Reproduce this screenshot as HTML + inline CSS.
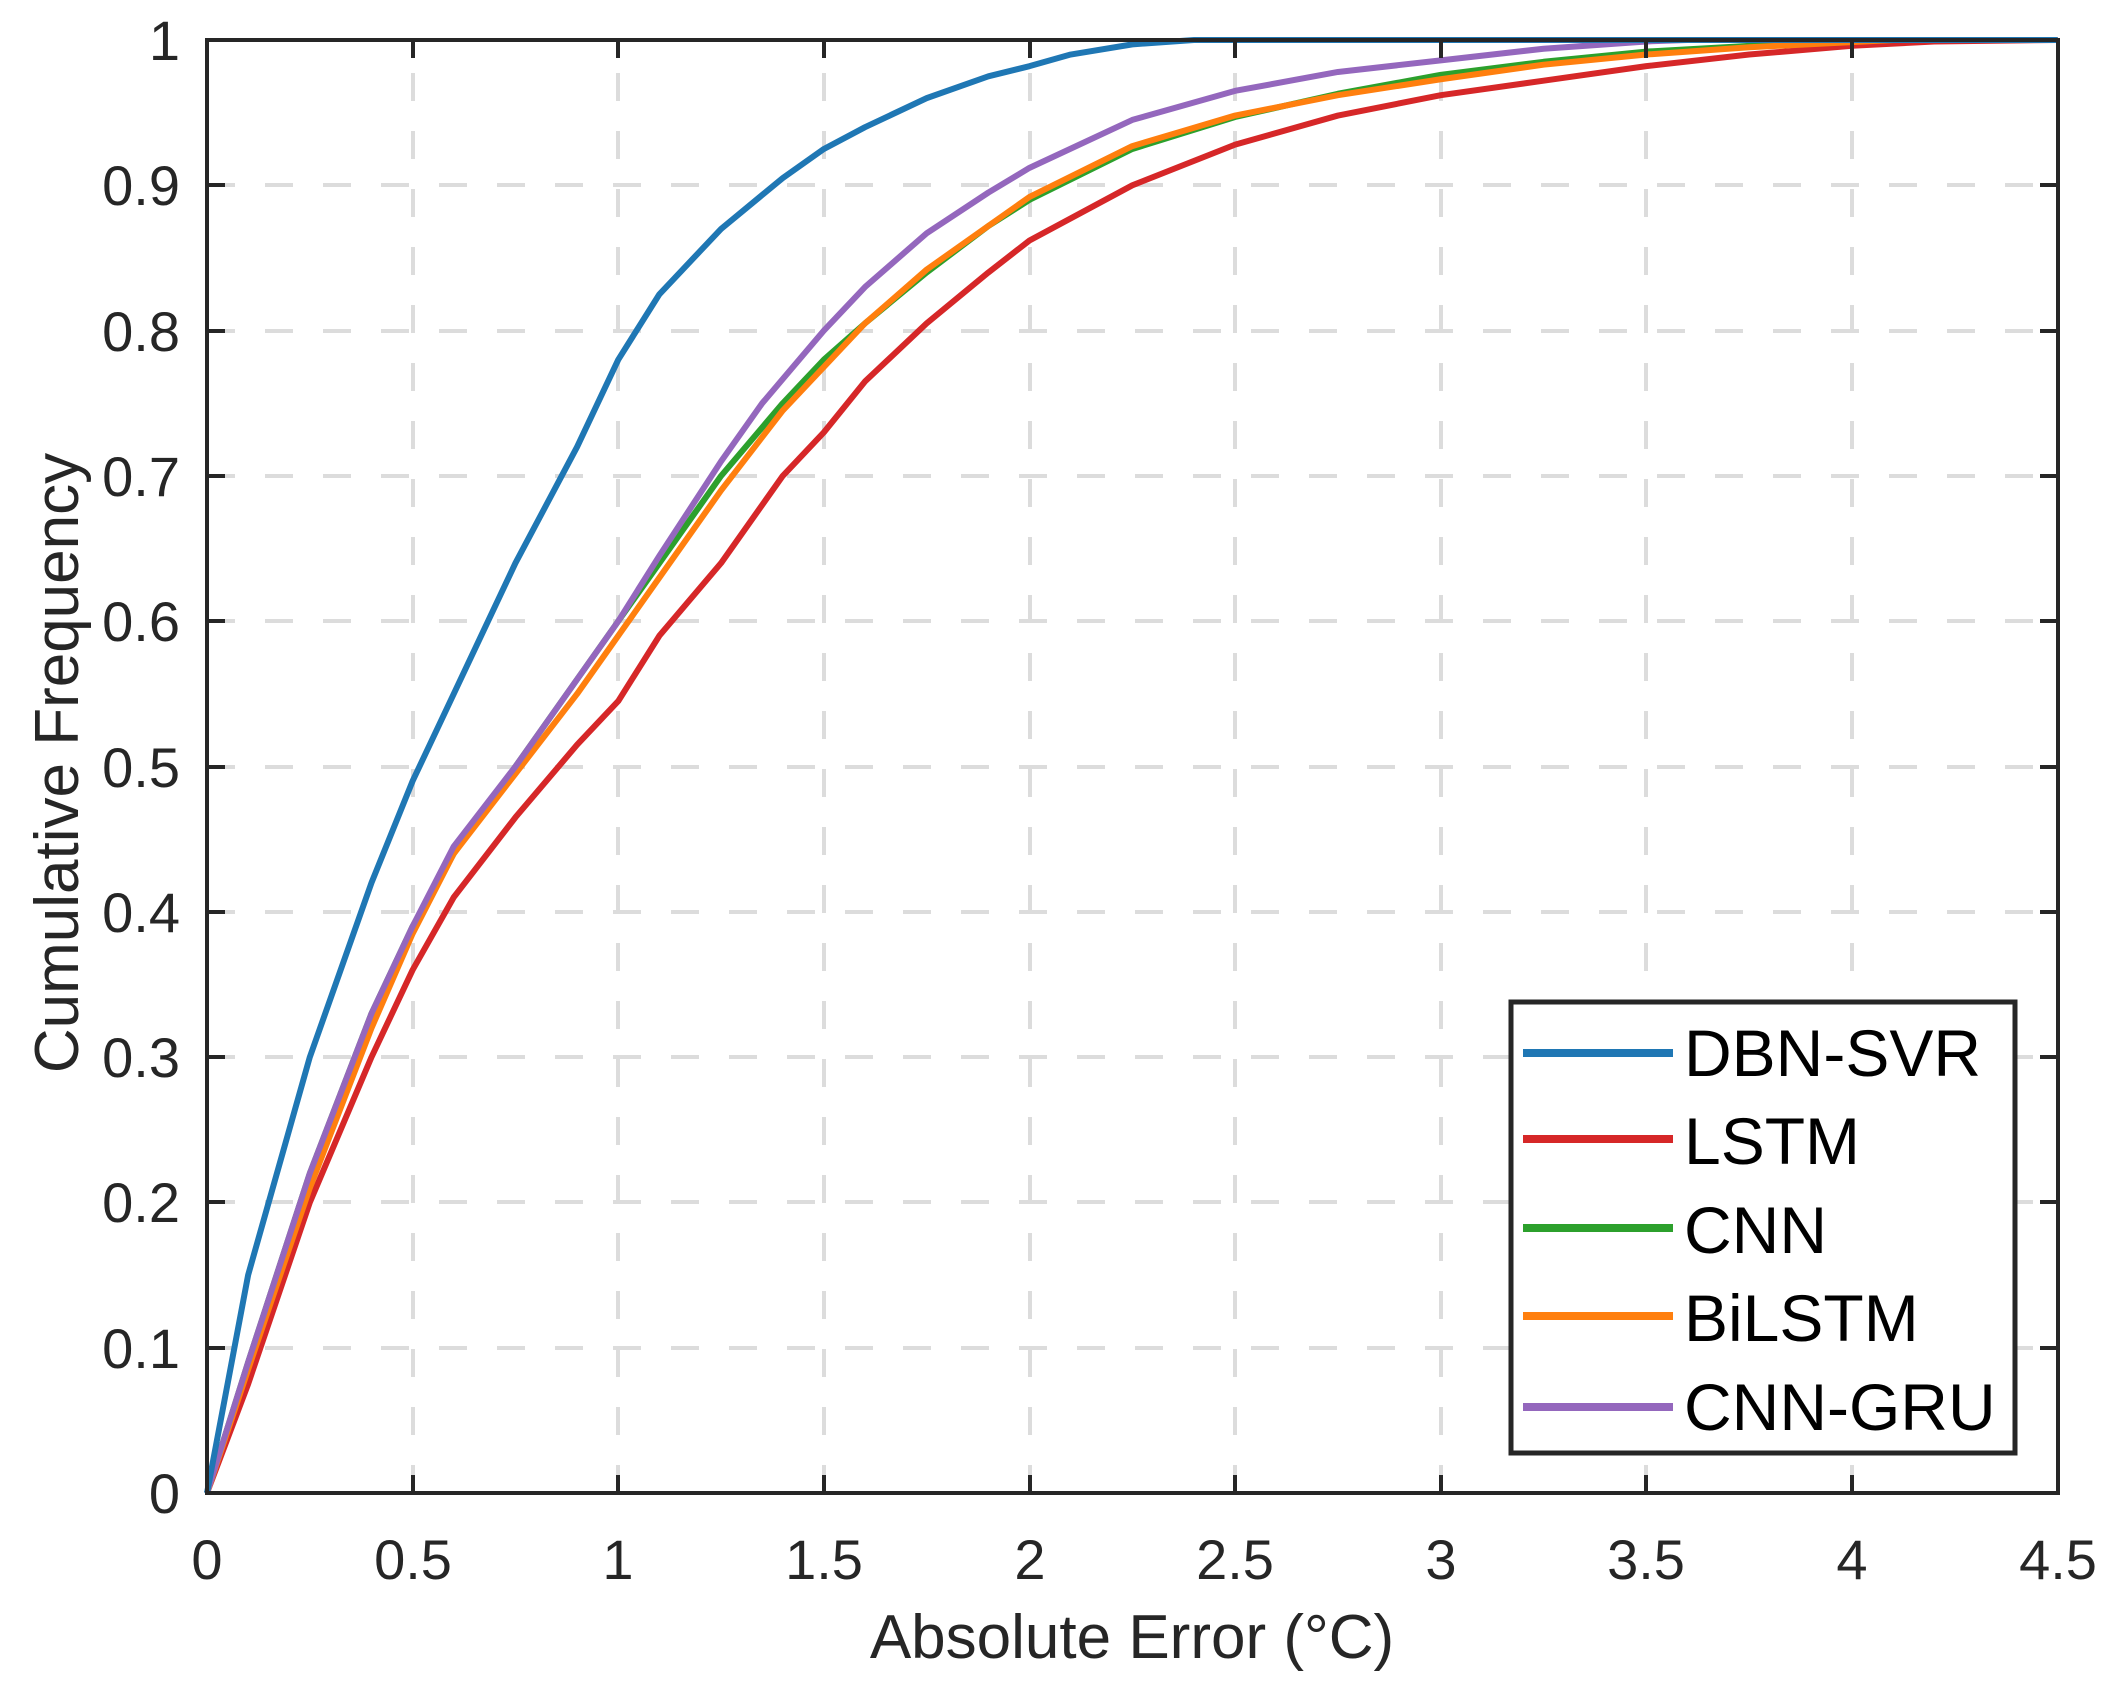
<!DOCTYPE html>
<html><head><meta charset="utf-8"><style>
html,body{margin:0;padding:0;background:#fff;}
svg{display:block;font-family:"Liberation Sans",Arial,sans-serif;}
</style></head><body>
<svg width="2117" height="1700" viewBox="0 0 2117 1700" xmlns="http://www.w3.org/2000/svg">
<rect width="2117" height="1700" fill="#fff"/>
<!-- grid -->
<g stroke="#dcdcdc" stroke-width="4" stroke-dasharray="28,30">
<line x1="413" y1="1493" x2="413" y2="40"/>
<line x1="618" y1="1493" x2="618" y2="40"/>
<line x1="824" y1="1493" x2="824" y2="40"/>
<line x1="1030" y1="1493" x2="1030" y2="40"/>
<line x1="1235" y1="1493" x2="1235" y2="40"/>
<line x1="1441" y1="1493" x2="1441" y2="40"/>
<line x1="1646" y1="1493" x2="1646" y2="40"/>
<line x1="1852" y1="1493" x2="1852" y2="40"/>
<line x1="207" y1="1348" x2="2058" y2="1348"/>
<line x1="207" y1="1202" x2="2058" y2="1202"/>
<line x1="207" y1="1057" x2="2058" y2="1057"/>
<line x1="207" y1="912" x2="2058" y2="912"/>
<line x1="207" y1="767" x2="2058" y2="767"/>
<line x1="207" y1="621" x2="2058" y2="621"/>
<line x1="207" y1="476" x2="2058" y2="476"/>
<line x1="207" y1="331" x2="2058" y2="331"/>
<line x1="207" y1="185" x2="2058" y2="185"/>
</g>
<!-- curves -->
<g transform="translate(207,1493) scale(411.25,-1453)" fill="none" stroke-width="6" stroke-linejoin="round">
<polyline vector-effect="non-scaling-stroke" stroke="#d62728" points="0,0 0.1,0.075 0.25,0.2 0.4,0.3 0.5,0.36 0.6,0.41 0.75,0.465 0.9,0.515 1,0.545 1.1,0.59 1.25,0.64 1.4,0.7 1.5,0.73 1.6,0.765 1.75,0.805 1.9,0.84 2,0.862 2.25,0.9 2.5,0.928 2.75,0.948 3,0.962 3.25,0.972 3.5,0.982 3.75,0.99 4,0.996 4.2,0.999 4.5,1"/>
<polyline vector-effect="non-scaling-stroke" stroke="#2ca02c" points="0,0 0.1,0.09 0.25,0.22 0.4,0.33 0.5,0.39 0.6,0.44 0.75,0.5 0.9,0.56 1,0.6 1.1,0.64 1.25,0.7 1.4,0.75 1.5,0.78 1.6,0.805 1.75,0.84 1.9,0.872 2,0.89 2.25,0.925 2.5,0.947 2.75,0.963 3,0.976 3.25,0.985 3.5,0.992 3.75,0.996 4.1,1 4.5,1"/>
<polyline vector-effect="non-scaling-stroke" stroke="#ff7f0e" points="0,0 0.1,0.085 0.25,0.21 0.4,0.32 0.5,0.385 0.6,0.44 0.75,0.495 0.9,0.55 1,0.59 1.1,0.63 1.25,0.69 1.4,0.745 1.5,0.775 1.6,0.805 1.75,0.842 1.9,0.872 2,0.892 2.25,0.927 2.5,0.948 2.75,0.962 3,0.973 3.25,0.983 3.5,0.99 3.75,0.995 4.1,1 4.5,1"/>
<polyline vector-effect="non-scaling-stroke" stroke="#9467bd" points="0,0 0.1,0.09 0.25,0.22 0.4,0.33 0.5,0.39 0.6,0.445 0.75,0.5 0.9,0.56 1,0.6 1.1,0.645 1.25,0.71 1.35,0.75 1.5,0.8 1.6,0.83 1.75,0.867 1.9,0.895 2,0.912 2.25,0.945 2.5,0.965 2.75,0.978 3,0.986 3.25,0.994 3.5,0.999 3.6,1 4.5,1"/>
<polyline vector-effect="non-scaling-stroke" stroke="#1f77b4" points="0,0 0.1,0.15 0.25,0.3 0.4,0.42 0.5,0.49 0.6,0.55 0.75,0.64 0.9,0.72 1,0.78 1.1,0.825 1.25,0.87 1.4,0.905 1.5,0.925 1.6,0.94 1.75,0.96 1.9,0.975 2,0.982 2.1,0.99 2.25,0.997 2.4,1 4.5,1"/>
</g>
<!-- axes box -->
<rect x="207" y="40" width="1851" height="1453" fill="none" stroke="#262626" stroke-width="4"/>
<g stroke="#262626" stroke-width="4">
<line x1="413" y1="1493" x2="413" y2="1475"/><line x1="618" y1="1493" x2="618" y2="1475"/><line x1="824" y1="1493" x2="824" y2="1475"/><line x1="1030" y1="1493" x2="1030" y2="1475"/><line x1="1235" y1="1493" x2="1235" y2="1475"/><line x1="1441" y1="1493" x2="1441" y2="1475"/><line x1="1646" y1="1493" x2="1646" y2="1475"/><line x1="1852" y1="1493" x2="1852" y2="1475"/>
<line x1="413" y1="40" x2="413" y2="58"/><line x1="618" y1="40" x2="618" y2="58"/><line x1="824" y1="40" x2="824" y2="58"/><line x1="1030" y1="40" x2="1030" y2="58"/><line x1="1235" y1="40" x2="1235" y2="58"/><line x1="1441" y1="40" x2="1441" y2="58"/><line x1="1646" y1="40" x2="1646" y2="58"/><line x1="1852" y1="40" x2="1852" y2="58"/>
<line x1="207" y1="1348" x2="225" y2="1348"/><line x1="207" y1="1202" x2="225" y2="1202"/><line x1="207" y1="1057" x2="225" y2="1057"/><line x1="207" y1="912" x2="225" y2="912"/><line x1="207" y1="767" x2="225" y2="767"/><line x1="207" y1="621" x2="225" y2="621"/><line x1="207" y1="476" x2="225" y2="476"/><line x1="207" y1="331" x2="225" y2="331"/><line x1="207" y1="185" x2="225" y2="185"/>
<line x1="2058" y1="1348" x2="2040" y2="1348"/><line x1="2058" y1="1202" x2="2040" y2="1202"/><line x1="2058" y1="1057" x2="2040" y2="1057"/><line x1="2058" y1="912" x2="2040" y2="912"/><line x1="2058" y1="767" x2="2040" y2="767"/><line x1="2058" y1="621" x2="2040" y2="621"/><line x1="2058" y1="476" x2="2040" y2="476"/><line x1="2058" y1="331" x2="2040" y2="331"/><line x1="2058" y1="185" x2="2040" y2="185"/>
</g>
<!-- tick labels -->
<g font-size="56" fill="#262626" text-anchor="end">
<text x="180" y="1513">0</text><text x="180" y="1368">0.1</text><text x="180" y="1222">0.2</text><text x="180" y="1077">0.3</text><text x="180" y="932">0.4</text><text x="180" y="787">0.5</text><text x="180" y="641">0.6</text><text x="180" y="496">0.7</text><text x="180" y="351">0.8</text><text x="180" y="205">0.9</text><text x="180" y="60">1</text>
</g>
<g font-size="56" fill="#262626" text-anchor="middle">
<text x="207" y="1579">0</text><text x="413" y="1579">0.5</text><text x="618" y="1579">1</text><text x="824" y="1579">1.5</text><text x="1030" y="1579">2</text><text x="1235" y="1579">2.5</text><text x="1441" y="1579">3</text><text x="1646" y="1579">3.5</text><text x="1852" y="1579">4</text><text x="2058" y="1579">4.5</text>
</g>
<text x="1132" y="1658" font-size="62" fill="#262626" text-anchor="middle">Absolute Error (°C)</text>
<text transform="translate(78,763) rotate(-90)" font-size="62" fill="#262626" text-anchor="middle">Cumulative Frequency</text>
<!-- legend -->
<rect x="1511" y="1002" width="504" height="451" fill="#fff" stroke="#262626" stroke-width="5"/>
<g stroke-width="8">
<line x1="1523" y1="1053" x2="1673" y2="1053" stroke="#1f77b4"/>
<line x1="1523" y1="1139" x2="1673" y2="1139" stroke="#d62728"/>
<line x1="1523" y1="1228" x2="1673" y2="1228" stroke="#2ca02c"/>
<line x1="1523" y1="1316" x2="1673" y2="1316" stroke="#ff7f0e"/>
<line x1="1523" y1="1407" x2="1673" y2="1407" stroke="#9467bd"/>
</g>
<g font-size="66" fill="#000">
<text x="1684" y="1076">DBN-SVR</text>
<text x="1684" y="1164">LSTM</text>
<text x="1684" y="1253">CNN</text>
<text x="1684" y="1341">BiLSTM</text>
<text x="1684" y="1430">CNN-GRU</text>
</g>
</svg>
</body></html>
